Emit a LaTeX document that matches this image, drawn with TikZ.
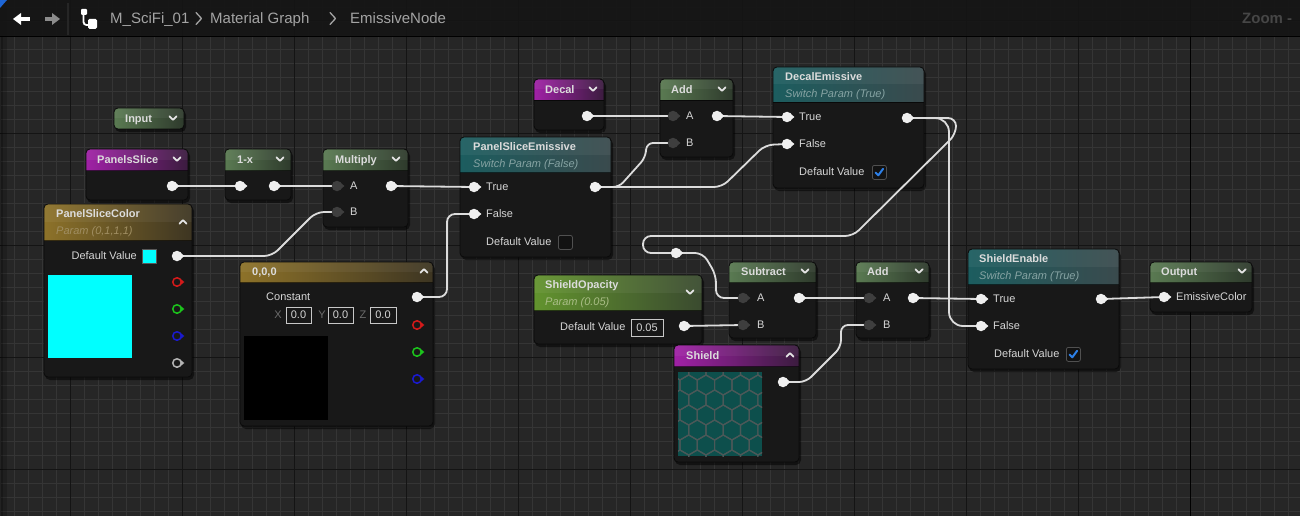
\documentclass[tikz,border=0pt]{standalone}
\usepackage{fontspec}
\setmainfont{Liberation Sans}
\pgfdeclarelayer{bgl}
\pgfdeclarelayer{nodel}
\pgfdeclarelayer{wirel}
\pgfsetlayers{bgl,nodel,wirel,main}

\definecolor{bgc}{HTML}{262626}
\definecolor{minorc}{HTML}{353535}
\definecolor{majorc}{HTML}{141414}
\definecolor{hdrc}{HTML}{151515}
\definecolor{bodyc}{HTML}{181818}
\definecolor{borderc}{HTML}{0A0A0A}
\definecolor{wirec}{HTML}{DCDCDC}
\definecolor{titlec}{HTML}{DCDCDC}
\definecolor{labelc}{HTML}{D6D6D6}
\definecolor{dimc}{HTML}{6C6C6C}
\definecolor{greenL}{HTML}{5A7A52}
\definecolor{greenR}{HTML}{2E3A2C}
\definecolor{magL}{HTML}{A021A6}
\definecolor{magR}{HTML}{3B1C3F}
\definecolor{tealL}{HTML}{1C5D5F}
\definecolor{tealR}{HTML}{3A4A4D}
\definecolor{goldL}{HTML}{8D7229}
\definecolor{goldR}{HTML}{3D3522}
\definecolor{limeL}{HTML}{62932E}
\definecolor{limeR}{HTML}{3A4A2F}
\definecolor{subteal}{HTML}{86A3A3}
\definecolor{subgold}{HTML}{A08E62}
\definecolor{sublime}{HTML}{A9BD86}
\definecolor{pinw}{HTML}{EFEFEF}
\definecolor{ping}{HTML}{3E3E3E}
\definecolor{pinr}{HTML}{D41A1A}
\definecolor{pingr}{HTML}{1CC41C}
\definecolor{pinb}{HTML}{1A1AD0}
\definecolor{pina}{HTML}{B4B4B4}
\definecolor{cyanc}{HTML}{00FFFF}
\definecolor{texc}{HTML}{0D4F4C}
\definecolor{hexc}{HTML}{4B5858}
\definecolor{checkc}{HTML}{2C7FE6}
\definecolor{cbfill}{HTML}{121212}
\definecolor{cbborder}{HTML}{505050}
\definecolor{crumbc}{HTML}{A4A4A4}
\definecolor{zoomc}{HTML}{464646}
\definecolor{cornerblue}{HTML}{1E66D6}
\definecolor{arrowgrey}{HTML}{8C8C8C}
\definecolor{sepc}{HTML}{262626}

\tikzset{
  ttl/.style={anchor=west, inner sep=0pt, text height=7.9pt, text depth=0pt,
    font=\fontsize{11}{13}\selectfont\bfseries, text=titlec},
  sub/.style={anchor=west, inner sep=0pt, text height=7.9pt, text depth=0pt,
    font=\fontsize{11}{13}\selectfont\itshape},
  lbl/.style={anchor=west, inner sep=0pt, text height=7.9pt, text depth=0pt,
    font=\fontsize{11}{13}\selectfont, text=labelc},
  crumb/.style={anchor=west, inner sep=0pt, text height=10.7pt, text depth=0pt,
    font=\fontsize{15}{17}\selectfont, text=crumbc},
  pinbase/.style={circle, inner sep=0pt, minimum size=10.5pt, draw=none},
  wire/.style={draw=wirec, line width=1.8pt, line cap=round, line join=round},
  chevst/.style={draw=white!90!black, line width=1.8pt, line cap=round, line join=round},
  cboxst/.style={draw=cbborder, fill=cbfill, rounded corners=2pt, minimum size=14pt,
    inner sep=0pt, anchor=north west, line width=0.8pt},
  valbox/.style={draw=white!78!black, line width=0.8pt, inner sep=0pt,
    font=\fontsize{11}{13}\selectfont, text=labelc, text height=7.9pt, text depth=0pt},
}

% body: x1 y1 x2 y2 yheader leftcolour rightcolour
\newcommand\unode[7]{%
  \fill[black,opacity=0.5,rounded corners=5pt] (#1+1,#2+2) rectangle (#3+2,#4+3);
  \fill[bodyc,rounded corners=4pt] (#1,#2) rectangle (#3,#4);
  \begin{scope}
    \clip[rounded corners=4pt] (#1,#2) rectangle (#3,#4);
    \shade[left color=#6,right color=#7] (#1,#2) rectangle (#3,#5);
    \fill[white,opacity=0.05] (#1,#2) rectangle (#3,#2/2+#5/2);
    \draw[black,opacity=0.6,line width=0.8pt] (#1,#5) -- (#3,#5);
  \end{scope}
  \draw[borderc,line width=0.8pt,rounded corners=4pt] (#1,#2) rectangle (#3,#4);
}
\newcommand\upin[3]{%
  \node[pinbase,fill=#3] (#1) at (#2) {};
  \fill[#3] ([shift={(4,-2.9)}]#1.center) -- ++(3.4,2.9) -- ++(-3.4,2.9) -- cycle;}
\newcommand\rpin[3]{%
  \node[pinbase,draw=#3,line width=1.5pt,fill=bodyc,minimum size=8.5pt] (#1) at (#2) {};
  \fill[#3] ([shift={(4.2,-2.6)}]#1.center) -- ++(3.1,2.6) -- ++(-3.1,2.6) -- cycle;}
\newcommand\chev[2]{\draw[chevst] (#1-3.6,#2-1.8) -- (#1,#2+1.8) -- (#1+3.6,#2-1.8);}
\newcommand\chevup[2]{\draw[chevst] (#1-3.6,#2+1.8) -- (#1,#2-1.8) -- (#1+3.6,#2+1.8);}
\newcommand\cbox[3]{\node[cboxst] (#1) at (#2,#3) {};}
\newcommand\cmark[1]{\draw[checkc,line width=2pt,line cap=round,line join=round]
  ([shift={(3.5,7.5)}]#1.north west) -- ++(2.8,2.8) -- ++(4.8,-6.5);}

\begin{document}
\begin{tikzpicture}[x=1pt,y=-1pt]
\useasboundingbox (0,0) rectangle (1300,516);

% ---------------- background grid ----------------
\begin{pgfonlayer}{bgl}
  \fill[bgc] (0,0) rectangle (1300,516);
  \foreach \i in {0,...,92} \draw[minorc,line width=0.9pt] (0.5+14*\i,0) -- (0.5+14*\i,516);
  \foreach \j in {0,...,36} \draw[minorc,line width=0.9pt] (0,7+14*\j) -- (1300,7+14*\j);
  \foreach \k in {0,...,11} \draw[majorc,line width=1pt] (70.5+112*\k,0) -- (70.5+112*\k,516);
  \foreach \y in {21,133,245,357,469} \draw[majorc,line width=1pt] (0,\y) -- (1300,\y);
  \draw[black,line width=1.6pt] (1190.5,0) -- (1190.5,516);
  \fill[black,opacity=0.35] (0,0) rectangle (3,516);
  \fill[black,opacity=0.18] (3,0) rectangle (7,516);
  % title bar
  \fill[hdrc,opacity=0.93] (0,0) rectangle (1300,37);
  \draw[black,line width=1pt] (0,37) -- (1300,37);
  \fill[cornerblue] (0,0) -- (7,0) -- (0,8) -- cycle;
  \fill[white] (13,19) -- (21,13) -- (21,25) -- cycle;
  \fill[white] (20,17) rectangle (30,21);
  \fill[arrowgrey] (60,19) -- (52,13) -- (52,25) -- cycle;
  \fill[arrowgrey] (45,17) rectangle (53,21);
  \draw[sepc,line width=1.2pt] (68,3) -- (68,35);
  \fill[white,rounded corners=1pt] (81,9) rectangle (87,15);
  \draw[white,line width=1.8pt,rounded corners=3pt] (83.5,15) -- (83.5,25) -- (89,25);
  \fill[white,rounded corners=1.5pt] (88,19) rectangle (97,29);
  \draw[crumbc,line width=1.3pt,line cap=round,line join=round] (196,12.5) -- (201.5,18.5) -- (196,24.5);
  \draw[crumbc,line width=1.3pt,line cap=round,line join=round] (330,12.5) -- (335.5,18.5) -- (330,24.5);
\end{pgfonlayer}

\node[crumb] (bc1) at (110,18.5) {M\_SciFi\_01};
\node[crumb] (bc2) at (210,18.5) {Material Graph};
\node[crumb] (bc3) at (350,18.5) {EmissiveNode};
\node[crumb,text=zoomc,font=\fontsize{15}{17}\selectfont\bfseries] (zm) at (1242,18.5) {Zoom -};

% ---------------- node bodies ----------------
\begin{pgfonlayer}{nodel}
  \unode{114}{108}{184}{129}{129}{greenL}{greenR}
  \unode{86}{149}{188}{200}{170}{magL}{magR}
  \unode{225}{149}{291}{200}{170}{greenL}{greenR}
  \unode{323}{149}{408}{227}{170}{greenL}{greenR}
  \unode{44}{204}{192}{377}{240}{goldL}{goldR}
  \unode{240}{262}{433}{426}{282}{goldL}{goldR}
  \unode{460}{137}{611}{257}{172}{tealL}{tealR}
  \unode{534}{79}{604}{130}{100}{magL}{magR}
  \unode{660}{79}{733}{157}{100}{greenL}{greenR}
  \unode{773}{67}{924}{188}{102}{tealL}{tealR}
  \unode{534}{275}{702}{344}{310}{limeL}{limeR}
  \unode{729}{262}{816}{338}{282}{greenL}{greenR}
  \unode{856}{262}{929}{338}{282}{greenL}{greenR}
  \unode{674}{345}{799}{462}{366}{magL}{magR}
  \unode{968}{249}{1119}{369}{284}{tealL}{tealR}
  \unode{1150}{262}{1252}{312}{282}{greenL}{greenR}
  % previews
  \fill[cyanc] (48,275) rectangle (132,358);
  \fill[black] (244,336) rectangle (328,420);
  \begin{scope}
    \clip (678,372) rectangle (762,456);
    \fill[texc] (678,372) rectangle (762,456);
    \foreach \r in {0,...,6}{\foreach \c in {-1,...,5}{
      \pgfmathsetmacro\hx{680+\c*17.3+mod(\r,2)*8.65}
      \pgfmathsetmacro\hy{372+\r*15-2}
      \draw[hexc,line width=1.2pt] (\hx,\hy-10) -- (\hx+8.65,\hy-5) -- (\hx+8.65,\hy+5)
        -- (\hx,\hy+10) -- (\hx-8.65,\hy+5) -- (\hx-8.65,\hy-5) -- cycle;}}
  \end{scope}
\end{pgfonlayer}

% ---------------- titles ----------------
\node[ttl] (t-in) at (125,118.5) {Input};            \chev{173}{118}
\node[ttl] (t-ps) at (97,159.5) {PanelsSlice};       \chev{177}{159}
\node[ttl] (t-omx) at (237,159.5) {1-x};             \chev{280}{159}
\node[ttl] (t-mul) at (335,159.5) {Multiply};        \chev{396}{159}
\node[ttl] (t-psc) at (56,214) {PanelSliceColor};    \chevup{183}{222}
\node[sub,text=subgold] (s-psc) at (56,231) {Param (0,1,1,1)};
\node[ttl] (t-c) at (252,272) {0,0,0};               \chevup{424}{271}
\node[ttl] (t-pse) at (473,147) {PanelSliceEmissive};
\node[sub,text=subteal] (s-pse) at (473,163.5) {Switch Param (False)};
\node[ttl] (t-dec) at (545,89.5) {Decal};            \chev{593}{89}
\node[ttl] (t-a1) at (671,89.5) {Add};               \chev{722}{89}
\node[ttl] (t-de) at (785,77) {DecalEmissive};
\node[sub,text=subteal] (s-de) at (785,93.5) {Switch Param (True)};
\node[ttl] (t-so) at (545,285) {ShieldOpacity};      \chev{690}{292}
\node[sub,text=sublime] (s-so) at (545,301.5) {Param (0.05)};
\node[ttl] (t-sub) at (741,272) {Subtract};          \chev{805}{271}
\node[ttl] (t-a2) at (867,272) {Add};                \chev{919}{271}
\node[ttl] (t-sh) at (686,356) {Shield};             \chevup{790}{355}
\node[ttl] (t-se) at (979,259) {ShieldEnable};
\node[sub,text=subteal] (s-se) at (979,275.5) {Switch Param (True)};
\node[ttl] (t-out) at (1161,272) {Output};           \chev{1242}{271}

% ---------------- labels & widgets ----------------
\node[lbl] (l-mula) at (350,186) {A};
\node[lbl] (l-mulb) at (350,212) {B};
\node[lbl,anchor=east] (l-pscdv) at (137,256) {Default Value};
\node[draw=white!35!black,fill=cyanc,line width=0.8pt,inner sep=0pt,minimum size=14pt] (sw) at (149,256) {};
\node[lbl] (l-const) at (266,297) {Constant};
\node[lbl,text=dimc,anchor=center] (l-x) at (278,315) {X};
\node[valbox,minimum width=25pt,minimum height=16pt] (vx) at (298.5,315) {0.0};
\node[lbl,text=dimc,anchor=center] (l-y) at (322,315) {Y};
\node[valbox,minimum width=25pt,minimum height=16pt] (vy) at (340.5,315) {0.0};
\node[lbl,text=dimc,anchor=center] (l-z) at (363,315) {Z};
\node[valbox,minimum width=26pt,minimum height=16pt] (vz) at (383,315) {0.0};
\node[lbl] (l-pset) at (486,187) {True};
\node[lbl] (l-psef) at (486,214) {False};
\node[lbl] (l-psedv) at (486,242) {Default Value};
\cbox{cb-pse}{558}{235}
\node[lbl] (l-a1a) at (686,116) {A};
\node[lbl] (l-a1b) at (686,143) {B};
\node[lbl] (l-det) at (799,117) {True};
\node[lbl] (l-def) at (799,144) {False};
\node[lbl] (l-dedv) at (799,172) {Default Value};
\cbox{cb-de}{872}{165}\cmark{cb-de}
\node[lbl] (l-sodv) at (560,327) {Default Value};
\node[valbox,minimum width=32pt,minimum height=17pt] (vso) at (647,327.5) {0.05};
\node[lbl] (l-suba) at (757,298) {A};
\node[lbl] (l-subb) at (757,325) {B};
\node[lbl] (l-a2a) at (883,298) {A};
\node[lbl] (l-a2b) at (883,325) {B};
\node[lbl] (l-set) at (993,299) {True};
\node[lbl] (l-sef) at (993,326) {False};
\node[lbl] (l-sedv) at (994,354) {Default Value};
\cbox{cb-se}{1066}{347}\cmark{cb-se}
\node[lbl] (l-out) at (1176,297) {EmissiveColor};

% ---------------- pins ----------------
\upin{ps-out}{172,186}{pinw}
\upin{omx-in}{240,186}{pinw}
\upin{omx-out}{274,186}{pinw}
\upin{mul-a}{337,186}{ping}
\upin{mul-b}{337,212}{ping}
\upin{mul-out}{391,186}{pinw}
\upin{psc-out}{177,256}{pinw}
\rpin{psc-r}{177,282}{pinr}
\rpin{psc-g}{177,309}{pingr}
\rpin{psc-b}{177,336}{pinb}
\rpin{psc-a}{177,363}{pina}
\upin{c-out}{417,297}{pinw}
\rpin{c-r}{417,325}{pinr}
\rpin{c-g}{417,352}{pingr}
\rpin{c-b}{417,379}{pinb}
\upin{pse-t}{474,187}{pinw}
\upin{pse-f}{474,214}{pinw}
\upin{pse-out}{595,187}{pinw}
\upin{decal-out}{587,116}{pinw}
\upin{a1-a}{673,116}{ping}
\upin{a1-b}{673,143}{ping}
\upin{a1-out}{717,116}{pinw}
\upin{de-t}{787,117}{pinw}
\upin{de-f}{787,144}{pinw}
\upin{de-out}{907,118}{pinw}
\upin{so-out}{684,326}{pinw}
\upin{sub-a}{743,298}{ping}
\upin{sub-b}{743,325}{ping}
\upin{sub-out}{799,298}{pinw}
\upin{a2-a}{869,298}{ping}
\upin{a2-b}{869,325}{ping}
\upin{a2-out}{913,298}{pinw}
\upin{sh-out}{783,382}{pinw}
\upin{se-t}{981,299}{pinw}
\upin{se-f}{981,326}{pinw}
\upin{se-out}{1101,299}{pinw}
\upin{out-in}{1164,297}{pinw}
\upin{rr}{676,253}{pinw}

% ---------------- wires ----------------
\begin{pgfonlayer}{wirel}
  \draw[wire] (ps-out.center) -- (omx-in.center);
  \draw[wire] (omx-out.center) -- (mul-a.center);
  \draw[wire,rounded corners=8pt] (psc-out.center) -- (272,256) -- (316,212) -- (mul-b.center);
  \draw[wire] (mul-out.center) -- (pse-t.center);
  \draw[wire,rounded corners=8pt] (c-out.center) -- (447,297) -- (447,214) -- (pse-f.center);
  \draw[wire] (decal-out.center) -- (a1-a.center);
  \draw[wire,rounded corners=6pt] (pse-out.center) -- (619,187) -- (645,158) -- (647,143) -- (a1-b.center);
  \draw[wire,rounded corners=8pt] (pse-out.center) -- (722,187) -- (765,145) -- (de-f.center);
  \draw[wire] (a1-out.center) -- (de-t.center);
  \draw[wire,rounded corners=14pt] (de-out.center) -- (949,118) -- (949,326) -- (se-f.center);
  \draw[wire,rounded corners=8pt] (de-out.center) -- (956,118) -- (956,134) -- (853,236)
    -- (643,236) -- (643,253) -- (rr.center);
  \draw[wire,rounded corners=8pt] (rr.center) -- (703,253) -- (716,275) -- (716,298) -- (sub-a.center);
  \draw[wire] (so-out.center) -- (sub-b.center);
  \draw[wire] (sub-out.center) -- (a2-a.center);
  \draw[wire,rounded corners=7pt] (sh-out.center) -- (806,382) -- (841,347) -- (841,325) -- (a2-b.center);
  \draw[wire] (a2-out.center) -- (se-t.center);
  \draw[wire] (se-out.center) -- (out-in.center);
\end{pgfonlayer}
\end{tikzpicture}
\end{document}
